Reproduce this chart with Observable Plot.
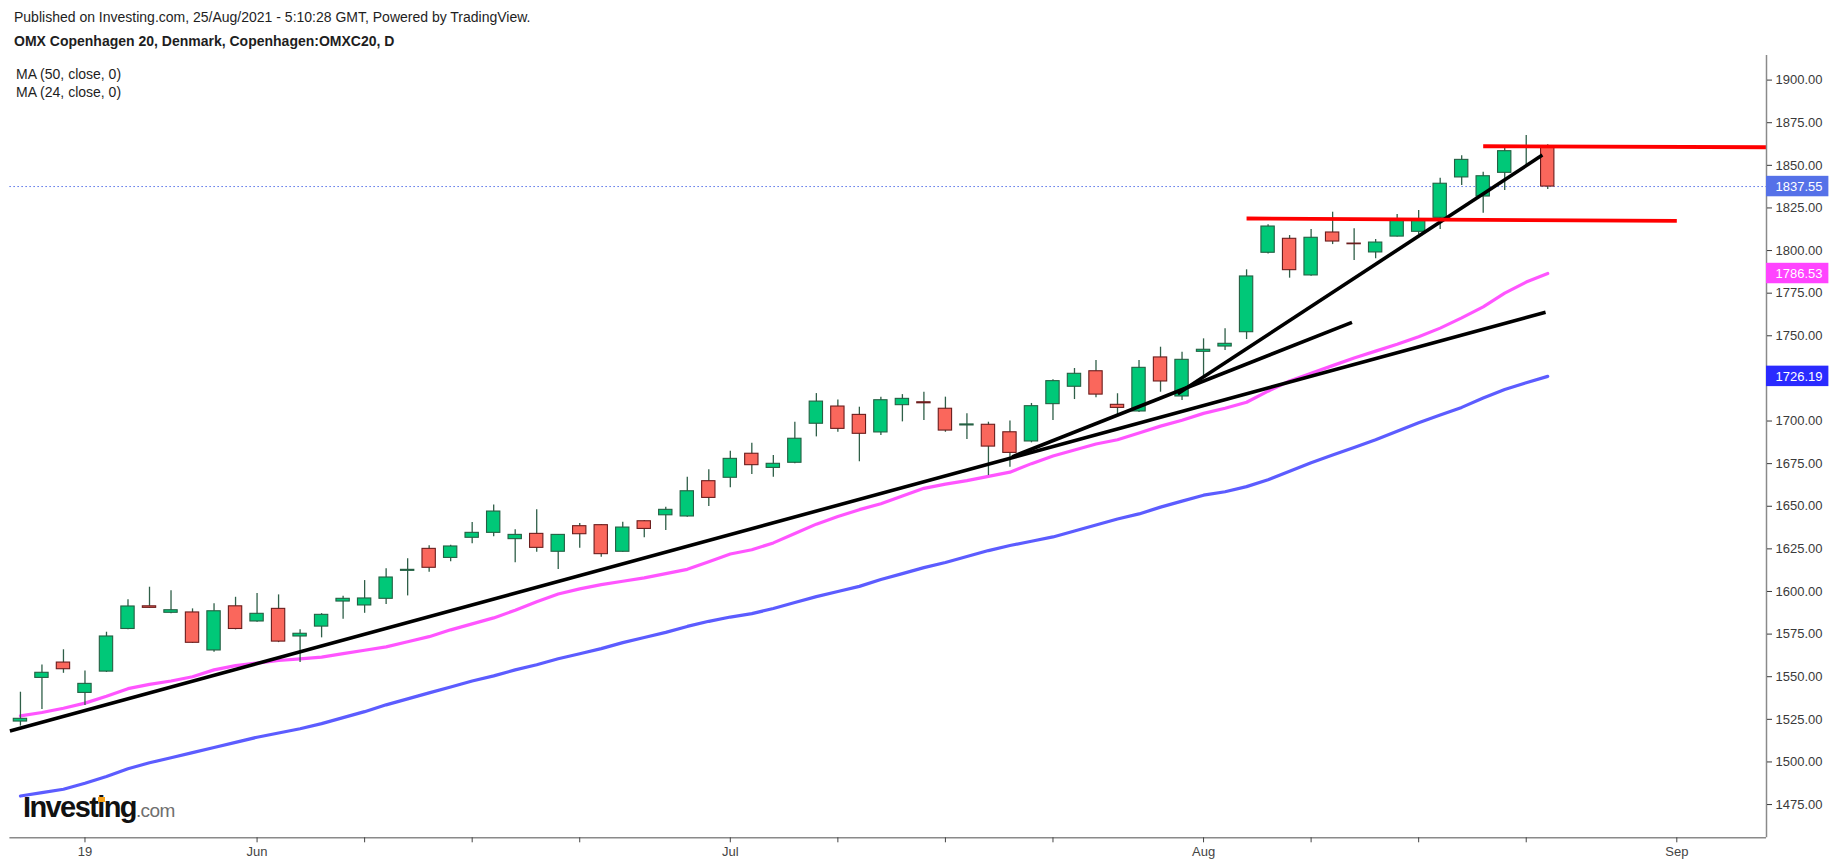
<!DOCTYPE html>
<html>
<head>
<meta charset="utf-8">
<script src="https://cdn.jsdelivr.net/npm/d3@7"></script>
<script src="https://cdn.jsdelivr.net/npm/@observablehq/plot@0.6"></script>
<style>
  html, body { margin: 0; padding: 0; background: #fff; }
  body { font-family: "Liberation Sans", Arial, sans-serif; }
  #page { position: relative; width: 1837px; height: 866px; overflow: hidden; background: #fff; }
  .hdr { position: absolute; left: 14px; font-size: 14px; line-height: 14px; color: #1e1e1e; white-space: nowrap; }
  .leg { position: absolute; left: 16px; font-size: 14px; line-height: 14px; color: #1e1e1e; white-space: nowrap; }
  #chart { position: absolute; left: 0; top: 55px; }
  #logo { position: absolute; left: 23px; top: 792px; white-space: nowrap; line-height: 30px; }
  #logo .main { font-size: 29px; font-weight: bold; letter-spacing: -1.6px; color: #111; }
  #logo .dom { font-size: 19px; color: #6f6f6f; letter-spacing: -0.6px; }
  #logo .dot { position: absolute; left: 75px; top: 5px; width: 7px; height: 5px; background: #f7a21b; }
</style>
</head>
<body>
<div id="page">
  <div class="hdr" style="top:10px">Published on Investing.com, 25/Aug/2021 - 5:10:28 GMT, Powered by TradingView.</div>
  <div class="hdr" style="top:34px;font-weight:bold">OMX Copenhagen 20, Denmark, Copenhagen:OMXC20, D</div>
  <div id="chart"></div>
  <div class="leg" style="top:67px">MA (50, close, 0)</div>
  <div class="leg" style="top:85px">MA (24, close, 0)</div>
  <div id="logo"><span class="main">Investing</span><span class="dom">.com</span><div class="dot"></div></div>
</div>
<script>
// ---- Daily OHLC (trading-day index 0..71, 14 May .. 24 Aug 2021) ----
const opens  = [1523.7,1549.3,1558.3,1540.5,1553.0,1578.0,1591.3,1587.5,1587.7,1565.4,1591.3,1582.4,
                1589.8,1573.6,1579.4,1594.1,1591.8,1595.7,1612.1,1625.0,1619.7,1631.5,1634.4,1630.7,
                1633.8,1623.3,1638.3,1638.9,1623.3,1641.2,1644.7,1644.0,1664.7,1666.7,1680.8,1672.5,
                1675.5,1698.4,1708.5,1703.6,1693.3,1709.3,1711.0,1707.2,1697.4,1697.8,1693.4,1688.0,
                1709.9,1720.1,1729.2,1709.5,1705.6,1737.3,1714.4,1740.6,1743.7,1752.1,1798.7,1806.9,
                1785.4,1810.6,1804.1,1798.9,1808.2,1811.0,1819.2,1842.9,1831.7,1845.6,1860.3,1860.3];
const highs  = [1540.9,1556.8,1565.8,1553.4,1576.1,1595.1,1602.5,1600.4,1589.8,1592.8,1596.6,1598.8,
                1598.0,1577.5,1587.0,1597.2,1606.4,1613.3,1619.2,1626.8,1627.1,1640.4,1650.8,1636.2,
                1647.9,1633.5,1639.9,1639.3,1640.6,1641.6,1649.4,1667.0,1671.4,1682.3,1687.0,1679.8,
                1699.3,1716.1,1712.4,1708.1,1714.0,1715.5,1716.9,1714.0,1704.2,1699.3,1700.0,1710.3,
                1724.2,1730.8,1735.5,1716.0,1735.5,1743.3,1740.4,1748.2,1754.1,1788.7,1815.1,1808.8,
                1812.3,1822.5,1812.8,1806.5,1821.1,1823.5,1842.4,1855.6,1846.0,1860.6,1867.5,1862.0];
const lows   = [1521.0,1530.7,1552.0,1533.1,1552.5,1577.5,1590.2,1587.0,1569.5,1564.4,1577.5,1581.9,
                1570.0,1558.3,1572.8,1583.7,1587.2,1592.3,1597.4,1611.3,1617.4,1628.0,1632.1,1616.8,
                1623.0,1612.9,1625.4,1620.1,1623.0,1631.5,1635.8,1643.5,1649.8,1660.8,1668.6,1667.0,
                1675.0,1690.7,1693.4,1676.1,1691.5,1699.5,1700.3,1693.4,1689.1,1668.0,1672.9,1687.2,
                1700.3,1712.6,1713.6,1702.2,1705.0,1716.9,1712.0,1725.1,1741.4,1747.8,1798.0,1783.8,
                1785.0,1803.5,1794.2,1795.2,1808.0,1809.4,1812.3,1838.2,1821.9,1835.2,1850.3,1835.8];
const closes = [1525.3,1552.3,1554.4,1545.8,1573.6,1591.2,1590.4,1589.0,1569.9,1588.4,1578.0,1586.9,
                1570.6,1575.2,1586.3,1595.7,1595.9,1608.2,1612.7,1613.9,1626.4,1634.4,1646.9,1633.2,
                1625.6,1633.2,1633.6,1621.9,1637.5,1636.7,1647.9,1658.8,1654.9,1677.8,1674.1,1674.9,
                1689.6,1711.4,1695.4,1692.5,1712.2,1713.0,1710.4,1694.4,1698.0,1685.0,1681.3,1708.7,
                1723.4,1727.7,1715.5,1707.7,1731.2,1723.2,1735.9,1741.8,1745.3,1784.8,1814.1,1788.5,
                1807.5,1805.3,1803.7,1804.7,1818.4,1818.0,1839.2,1853.2,1843.6,1858.3,1860.8,1837.55];

// ---- Moving averages, read at each candle ----
const ma50 = [1480.0,1482.0,1484.0,1487.5,1491.5,1496.0,1499.5,1502.5,1505.5,1508.5,1511.5,1514.5,
              1517.0,1519.5,1522.5,1526.0,1529.5,1533.5,1537.0,1540.5,1544.0,1547.5,1550.5,1554.0,
              1557.0,1560.5,1563.5,1566.5,1570.0,1573.0,1576.0,1579.5,1582.5,1585.0,1587.0,1590.0,
              1593.5,1597.0,1600.0,1603.0,1607.0,1610.5,1614.0,1617.0,1620.5,1624.0,1627.0,1629.5,
              1632.0,1635.5,1639.0,1642.5,1645.5,1649.5,1653.0,1656.5,1658.5,1661.5,1665.5,1670.5,
              1675.5,1680.0,1684.5,1689.0,1694.0,1699.0,1703.5,1708.0,1713.5,1718.5,1722.5,1726.19];
const ma24 = [1527.0,1529.0,1531.5,1534.5,1538.5,1543.0,1545.5,1547.5,1550.0,1554.0,1556.5,1558.0,
              1559.5,1560.5,1561.5,1563.5,1565.5,1567.5,1570.5,1573.5,1577.5,1581.0,1584.5,1589.0,
              1594.0,1598.5,1601.5,1604.0,1606.0,1608.0,1610.5,1613.0,1617.5,1622.0,1624.5,1628.5,
              1634.0,1639.5,1644.0,1648.0,1651.5,1656.0,1660.5,1663.0,1665.0,1667.5,1670.0,1675.0,
              1679.5,1683.0,1686.5,1689.0,1693.0,1697.0,1700.5,1704.5,1707.5,1711.0,1717.5,1723.5,
              1728.0,1732.5,1737.0,1741.0,1745.0,1749.5,1754.5,1760.5,1767.0,1775.0,1781.5,1786.53];

// ---- Axis ticks ----
const xTickIdx    = [3, 11, 16, 21, 26, 33, 38, 43, 48, 55, 60, 65, 70, 77];
const xTickLabels = ["19", "Jun", "", "", "", "Jul", "", "", "", "Aug", "", "", "", "Sep"];
const yTicks = [1475, 1500, 1525, 1550, 1575, 1600, 1625, 1650, 1675, 1700, 1725, 1750, 1775, 1800, 1825, 1850, 1875, 1900];

// ---- Drawn trend lines (index, price) ----
const trendX1 = [-0.49, 46.1, 53.8];
const trendY1 = [1518.2, 1679.0, 1716.0];
const trendX2 = [70.9, 61.9, 70.75];
const trendY2 = [1763.8, 1757.9, 1856.0];
const levelX1 = [57.0, 68.0];
const levelY1 = [1818.8, 1861.2];
const levelX2 = [77.0, 81.17];
const levelY2 = [1817.4, 1860.6];

// ---- Last values ----
const lastValues = [1837.55, 1786.53, 1726.19];
const lastColors = ["#5571e8", "#ff44ff", "#2a2aff"];
const priceLine = 1837.55;

// ---- Build tables ----
const candles = opens.map((o, i) => ({ i, o, h: highs[i], l: lows[i], c: closes[i], up: closes[i] >= o }));
const ma50Data = ma50.map((v, i) => ({ i, v }));
const ma24Data = ma24.map((v, i) => ({ i, v }));
const trends = trendX1.map((x, k) => ({ x1: x, y1: trendY1[k], x2: trendX2[k], y2: trendY2[k] }));
const levels = levelX1.map((x, k) => ({ x1: x, y1: levelY1[k], x2: levelX2[k], y2: levelY2[k] }));
const labels = lastValues.map((v, k) => ({ v, color: lastColors[k] }));
const xLabel = new Map(xTickIdx.map((d, k) => [d, xTickLabels[k]]));

const xMin = -0.49, xMax = 81.17;
const yMin = 1455.5, yMax = 1914.43;
const font = '"Liberation Sans", Arial, sans-serif';

const chart = Plot.plot({
  width: 1837,
  height: 811,
  marginTop: 0,
  marginBottom: 28.7,
  marginLeft: 9.4,
  marginRight: 71,
  x: { domain: [xMin, xMax] },
  y: { domain: [yMin, yMax] },
  style: { fontFamily: font, background: "transparent", overflow: "visible" },
  marks: [
    Plot.ruleY([priceLine], { stroke: "#5571e8", strokeWidth: 1, strokeDasharray: "1.5,2.5" }),
    Plot.line(ma50Data, { x: "i", y: "v", stroke: "#5c5cff", strokeWidth: 3.2 }),
    Plot.line(ma24Data, { x: "i", y: "v", stroke: "#ff55ff", strokeWidth: 3.2 }),
    Plot.ruleX(candles, { x: "i", y1: "l", y2: "h", stroke: "#2f5f48", strokeWidth: 1.3 }),
    Plot.rect(candles, {
      x1: d => d.i - 0.31, x2: d => d.i + 0.31,
      y1: d => Math.min(d.o, d.c), y2: d => Math.max(d.o, d.c),
      fill: d => d.up ? "#00c878" : "#fa675c",
      stroke: d => d.up ? "#255f43" : "#6b1d1d",
      strokeWidth: 1.1
    }),
    Plot.link(trends, { x1: "x1", y1: "y1", x2: "x2", y2: "y2", stroke: "#000", strokeWidth: 3.6 }),
    Plot.link(levels, { x1: "x1", y1: "y1", x2: "x2", y2: "y2", stroke: "#ff0000", strokeWidth: 3.8 }),
    Plot.ruleY([yMin], { stroke: "#8a8a8a", strokeWidth: 1.5 }),
    Plot.ruleX([xMax], { stroke: "#8a8a8a", strokeWidth: 1.5 }),
    Plot.axisY({
      anchor: "right", ticks: yTicks, tickFormat: d => d.toFixed(2),
      tickSize: 5, tickPadding: 4, fontSize: 13, color: "#3a3a3a", label: null
    }),
    Plot.axisX({
      anchor: "bottom", ticks: xTickIdx, tickFormat: d => xLabel.get(d) ?? "",
      tickSize: 5, tickPadding: 4, fontSize: 13, color: "#444", label: null
    }),
    Plot.rect(labels, {
      x1: () => xMax, x2: () => xMax + 2.9,
      y1: d => d.v - 6, y2: d => d.v + 6,
      fill: "color"
    }),
    Plot.text(labels, {
      x: () => xMax, y: "v", text: d => d.v.toFixed(2),
      dx: 9, textAnchor: "start", fill: "#fff", fontSize: 13
    })
  ]
});
document.getElementById("chart").appendChild(chart);
</script>
</body>
</html>
